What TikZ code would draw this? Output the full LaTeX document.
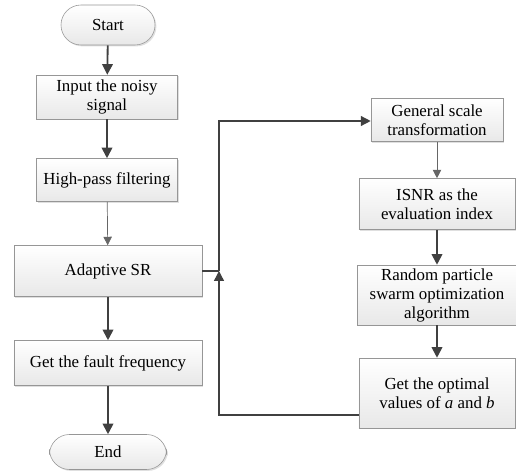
\documentclass[tikz,border=0pt]{standalone}
\usepackage{fontspec}
\setmainfont{Liberation Serif}
\definecolor{linegray}{RGB}{64, 64, 64}
\definecolor{boxline}{RGB}{150, 150, 150}
\usetikzlibrary{positioning,shapes,arrows.meta,calc,shadows}

\begin{document}
\begin{tikzpicture}[x=0.025cm,y=-0.025cm,
    box/.style={draw=boxline,top color=white,bottom color=gray!18,align=center,
        font=\fontsize{12}{13.5}\selectfont,inner sep=1pt,
        drop shadow={opacity=0.25,shadow xshift=1pt,shadow yshift=-1pt}},
    term/.style={box,rounded corners=0.5cm},
    flow/.style={draw=linegray,line width=1.3pt,-{Triangle[width=7.5pt,length=7.5pt]}},
    thinflow/.style={draw=gray!80!black,line width=0.5pt,-{Triangle[width=6pt,length=6pt]}},
    loopline/.style={draw=linegray,line width=1pt}]
    \useasboundingbox (0,0) rectangle (516,473);
    % main chain
    \node[term,minimum width=2.35cm,minimum height=1cm] (start) at (108,25) {Start};
    \node[box,minimum width=3.525cm,minimum height=1.1cm] (input) at (107,97) {Input the noisy\\signal};
    \node[box,minimum width=3.525cm,minimum height=1.075cm] (hpf) at (107,180) {High-pass filtering};
    \node[box,minimum width=4.7cm,minimum height=1.275cm] (asr) at (108,271) {Adaptive SR};
    \node[box,minimum width=4.7cm,minimum height=1.125cm] (fault) at (108,363) {Get the fault frequency};
    \node[term,minimum width=2.925cm,minimum height=0.875cm] (end) at (108,452) {End};
    % optimization chain
    \node[box,minimum width=3.3cm,minimum height=1.075cm] (gst) at (437,120) {General scale\\transformation};
    \node[box,minimum width=3.9cm,minimum height=1.275cm] (isnr) at (437,204) {ISNR as the\\evaluation index};
    \node[box,minimum width=3.975cm,minimum height=1.5cm] (rpso) at (437,295) {Random particle\\swarm optimization\\algorithm};
    \node[box,minimum width=3.9cm,minimum height=1.75cm] (opt) at (437,393) {Get the optimal\\values of \textit{a} and \textit{b}};
    \coordinate (jn) at (219,271);
    \coordinate (top) at (219,121);
    \coordinate (bot) at (219,415);

    \draw[flow] (start) -- (input);
    \draw[flow] (input) -- (hpf);
    \draw[thinflow] (hpf) -- (asr);
    \draw[flow] (asr) -- (fault);
    \draw[flow] (fault) -- (end);
    \draw[thinflow] (gst) -- (isnr);
    \draw[flow] (isnr) -- (rpso);
    \draw[flow] (rpso) -- (opt);
    % feedback loop
    \draw[loopline] (asr.east) -- (jn);
    \draw[loopline,-{Triangle[width=7pt,length=7pt]}] (jn) -- (top) -- (gst.west |- top);
    \draw[loopline,-{Triangle[width=7pt,length=7pt]}] (opt.west |- bot) -- (bot) -- (jn);
\end{tikzpicture}
\end{document}
